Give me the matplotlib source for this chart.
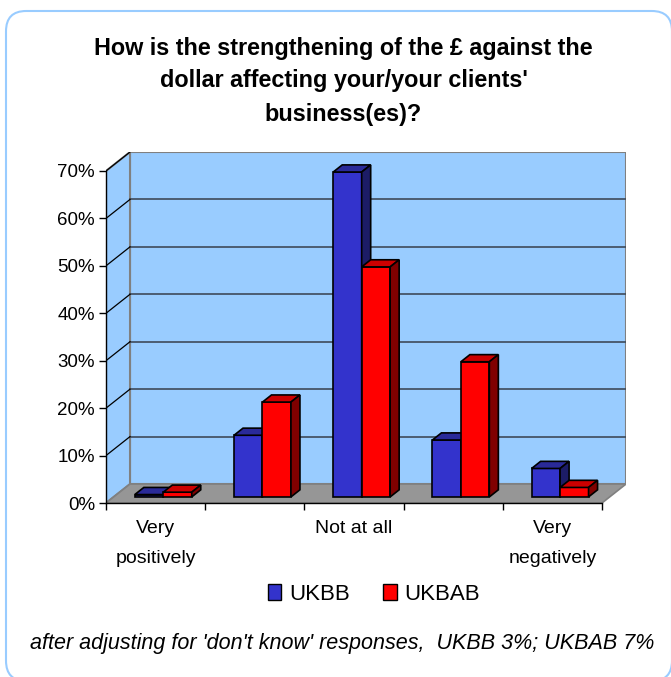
import matplotlib
matplotlib.use("Agg")
import matplotlib.pyplot as plt
from matplotlib.patches import Polygon, FancyBboxPatch, Patch

plt.rcParams['font.family'] = ['Liberation Sans', 'DejaVu Sans']

# ---- data ----
categories = ["Very\npositively", "Positively", "Not at all", "Negatively", "Very\nnegatively"]
ukbb = [0.5, 13, 68.5, 12, 6]
ukbab = [1, 20, 48.5, 28.5, 2]
series_names = ["UKBB", "UKBAB"]
y_ticks = [0, 10, 20, 30, 40, 50, 60, 70]
title_lines = ["How is the strengthening of the \u00a3 against the",
               "dollar affecting your/your clients'",
               "business(es)?"]
footnote = "after adjusting for 'don't know' responses,  UKBB 3%; UKBAB 7%"

# ---- style ----
W_PX, H_PX = 671, 677
front_cols = ["#3333CC", "#FF0000"]
top_cols = ["#2A2A99", "#CC0000"]
side_cols = ["#1C1C66", "#800000"]
wall_col = "#99CCFF"
floor_col = "#969696"
grid_col = "#3E4A5A"

DX, DY = 0.242, 4.0          # depth offset of the back wall (x units, % units)
Z0, Z1 = 0.32, 0.695         # bar depth span as fraction of total depth
BW = 0.287                   # bar width
YMAX = 70

fig = plt.figure(figsize=(W_PX / 100, H_PX / 100), dpi=100)

# rounded frame
frame = FancyBboxPatch((6 / W_PX, -4 / H_PX), 666 / W_PX, 670 / H_PX,
                       boxstyle="round,pad=0,rounding_size=0.03",
                       transform=fig.transFigure, facecolor="none",
                       edgecolor="#99CCFF", linewidth=1.5, clip_on=False)
fig.patches.append(frame)

ax = fig.add_axes([106 / W_PX, (H_PX - 503) / H_PX, 520 / W_PX, 351 / H_PX])
n = len(categories)
x0, x1 = -0.5, n - 0.5
ax.set_xlim(x0, x1 + DX)
ax.set_ylim(0, YMAX + DY)
ax.patch.set_visible(False)

# back wall
ax.add_patch(Polygon([(x0 + DX, DY), (x1 + DX, DY), (x1 + DX, YMAX + DY), (x0 + DX, YMAX + DY)],
                     closed=True, facecolor=wall_col, edgecolor="#808080", lw=1.5, zorder=1))
# left side wall
ax.add_patch(Polygon([(x0, 0), (x0 + DX, DY), (x0 + DX, YMAX + DY), (x0, YMAX)],
                     closed=True, facecolor=wall_col, edgecolor="#808080", lw=1.5, zorder=1))
# floor
ax.add_patch(Polygon([(x0, 0), (x1, 0), (x1 + DX, DY), (x0 + DX, DY)],
                     closed=True, facecolor=floor_col, edgecolor="#808080", lw=1.2, zorder=1))

# gridlines on back and side walls
for v in y_ticks[1:-1]:
    ax.plot([x0 + DX, x1 + DX], [v + DY, v + DY], color=grid_col, lw=1.2, zorder=2)
for v in y_ticks[1:]:
    ax.plot([x0, x0 + DX], [v, v + DY], color="black", lw=0.9, zorder=2)

# bars
base = Z0 * DY
ddx, ddy = (Z1 - Z0) * DX, (Z1 - Z0) * DY
for i in range(n):
    for s, vals in enumerate([ukbb, ukbab]):
        v = vals[i]
        xl = i + Z0 * DX - BW + s * BW
        xr = xl + BW
        ax.bar(xl, v, width=BW, bottom=base, align="edge", color=front_cols[s],
               edgecolor="black", linewidth=1.2, zorder=3 + i * 2 + s)
        top = v + base
        ax.add_patch(Polygon([(xl, top), (xr, top), (xr + ddx, top + ddy), (xl + ddx, top + ddy)],
                             closed=True, facecolor=top_cols[s], edgecolor="black", lw=1.2,
                             zorder=3 + i * 2 + s))
        ax.add_patch(Polygon([(xr, base), (xr, top), (xr + ddx, top + ddy), (xr + ddx, base + ddy)],
                             closed=True, facecolor=side_cols[s], edgecolor="black", lw=1.2,
                             zorder=3 + i * 2 + s))

# axes lines and ticks
for side in ["top", "right"]:
    ax.spines[side].set_visible(False)
ax.spines["left"].set_bounds(0, YMAX)
ax.spines["bottom"].set_bounds(x0, x1)
for side in ["left", "bottom"]:
    ax.spines[side].set_linewidth(1.0)
    ax.spines[side].set_zorder(20)

ax.set_yticks(y_ticks)
ax.set_yticklabels([f"{v}%" for v in y_ticks], fontsize=13.5)
ax.tick_params(axis="y", direction="out", length=5, width=1.0, pad=3)

ax.set_xticks([k - 0.5 for k in range(n + 1)])
ax.set_xticklabels([])
ax.tick_params(axis="x", which="major", direction="out", length=5, width=1.0)
ax.set_xticks(list(range(0, n, 2)), minor=True)
ax.set_xticklabels([categories[k] for k in range(0, n, 2)], minor=True, fontsize=14,
                   linespacing=2.0)
ax.tick_params(axis="x", which="minor", length=0, pad=12)

# title
for k, line in enumerate(title_lines):
    fig.text(343.5 / W_PX, 1 - (48 + 33 * k) / H_PX, line, ha="center", va="center",
             fontsize=16.8, fontweight="bold")

# legend
handles = [Patch(facecolor=front_cols[s], edgecolor="black", linewidth=1.0, label=series_names[s])
           for s in range(2)]
fig.legend(handles=handles, loc="center", bbox_to_anchor=(374 / W_PX, 1 - 594 / H_PX),
           ncol=2, frameon=False, fontsize=16, handlelength=0.6, handleheight=0.7,
           handletextpad=0.35, columnspacing=1.5)

# footnote
fig.text(342 / W_PX, 1 - 643 / H_PX, footnote, ha="center", va="center",
         fontsize=15.5, fontstyle="italic")

fig.savefig("out.png", dpi=100, facecolor="white")
